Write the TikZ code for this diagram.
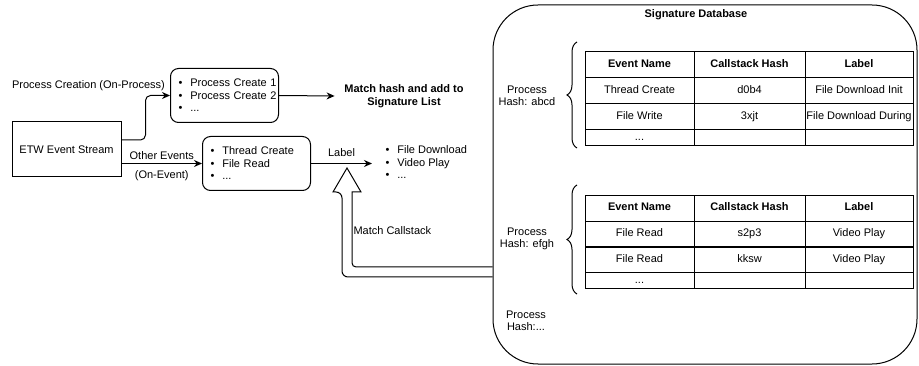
\documentclass[tikz,border=0pt]{standalone}
\usepackage{fontspec}
\setmainfont{Liberation Sans}
\usetikzlibrary{positioning,matrix,arrows.meta,decorations.pathreplacing}

\newcommand{\itm}[1]{\mbox{\hspace*{6pt}\textbullet\hspace{8pt}#1}}

\begin{document}
\begin{tikzpicture}[
  x=1pt, y=-1pt,
  font=\fontsize{11}{12.5}\selectfont,
  line width=1pt,
  box/.style={draw, minimum width=109pt, minimum height=55pt, inner sep=0pt},
  rbox/.style={draw, rounded corners=8pt, text width=104pt, align=left, inner xsep=2pt, inner ysep=0pt, minimum height=54pt},
  arr/.style={-{Stealth[length=8pt,width=7pt]}},
  bold/.style={font=\fontsize{11}{13}\selectfont\bfseries},
  tbl/.style={matrix of nodes, nodes in empty cells, anchor=north west, inner sep=0pt,
    column sep=-1pt, row sep=-1pt,
    nodes={draw, inner sep=0pt, text height=8pt, text depth=2.5pt, minimum height=26pt, anchor=center},
    column 1/.style={nodes={minimum width=109pt}},
    column 2/.style={nodes={minimum width=111pt}},
    column 3/.style={nodes={minimum width=108pt}},
    row 1/.style={nodes={bold}},
    row 4/.style={nodes={minimum height=16pt}}},
  brc/.style={decorate, decoration={brace, amplitude=10pt}},
  hl/.style={align=center, inner sep=0pt, font=\fontsize{11}{12}\selectfont}
]
\useasboundingbox (0,0) rectangle (919,366);

\node[box] (etw) at (66.5,149.5) {ETW Event Stream};
\node[rbox, anchor=north west] (pcbox) at (170,68) {\itm{Process Create 1}\\\itm{Process Create 2}\\\itm{...}};
\node[rbox, anchor=north west] (evbox) at (202,136) {\itm{Thread Create}\\\itm{File Read}\\\itm{...}};
\node (pclabel) at (88.5,86) {Process Creation (On-Process)};
\node[bold, align=center] (match) at (404,96) {Match hash and add to\\Signature List};
\node[align=left, inner sep=0pt, anchor=west] (lbllist) at (379,162.5) {\itm{File Download}\\\itm{Video Play}\\\itm{...}};

\node[draw, rounded corners=45pt, minimum width=424pt, minimum height=359pt, inner sep=0pt] (sigdb) at (705,184.5) {};
\node[bold] (sigtitle) at (696,15) {Signature Database};

\matrix[tbl] (tblA) at (584,51) {
  Event Name & Callstack Hash & Label\\
  Thread Create & d0b4 & File Download Init\\
  File Write & 3xjt & File Download During\\
  ... & & \\
};
\matrix[tbl] (tblB) at (584,194) {
  Event Name & Callstack Hash & Label\\
  File Read & s2p3 & Video Play\\
  File Read & kksw & Video Play\\
  ... & & \\
};

\node[hl] (hashA) at (527,96) {Process\\Hash: abcd};
\node[hl] (hashB) at (527,239) {Process\\Hash: efgh};
\node[hl] (hashC) at (526,321) {Process\\Hash:...};
\node[anchor=west, inner sep=0pt] (matchcs) at (353,231) {Match Callstack};

\coordinate (brAt) at (577,42);
\coordinate (brAb) at (577,148);
\coordinate (brBt) at (577,185);
\coordinate (brBb) at (577,294);
\draw[brc] (brAb) -- (brAt);
\draw[brc] (brBb) -- (brBt);

\draw[arr, rounded corners=5pt] ([yshift=9.5pt]etw.east) -- ++(24,0) |- (pcbox.west);
\draw[arr] (etw.east |- evbox.west) -- node[above] (oelab) {Other Events} node[below=3pt] (onev) {(On-Event)} (evbox.west);
\draw[arr] (pcbox.east) -- ([xshift=-6pt]match.west);
\draw[arr] (evbox.east) -- node[above=3pt] (lbltag) {Label} ([xshift=-7pt]evbox.east -| lbllist.west);

\draw[rounded corners=6pt] (sigdb.west |- 0,277) -- (342,277) -- (342,192) [sharp corners] -- (333,192) -- (347,168) -- (361,192) -- (352,192) [rounded corners=4pt] -- (352,267) -- (sigdb.west |- 0,267);

\end{tikzpicture}
\end{document}
